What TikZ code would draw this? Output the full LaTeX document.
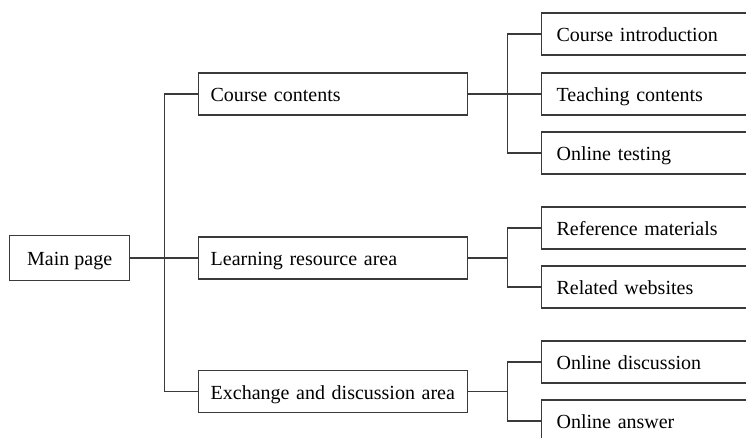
\documentclass[tikz,border=0pt]{standalone}
\usepackage{fontspec}
\setmainfont{Liberation Serif}
\usetikzlibrary{calc,positioning}
\definecolor{ink}{HTML}{3A3A3A}
\tikzset{
    box/.style={draw=ink, line width=0.65pt, rectangle, anchor=west,
                minimum height=21pt, inner ysep=0pt, text height=8.5pt,
                text depth=0.5pt, font=\fontsize{10}{12}\selectfont, text=black},
    main box/.style={box, minimum width=60pt, minimum height=22.5pt},
    area box/.style={box, inner xsep=6pt, text width=122.5pt, align=left},
    item box/.style={box, inner xsep=7.5pt, text width=100pt, align=left},
    link/.style={draw=ink, line width=0.65pt},
}

\begin{document}
\begin{tikzpicture}[x=0.5pt, y=-0.5pt]
\useasboundingbox (0,0) rectangle (746,438);
\clip (0,0) rectangle (746,438);

% Root and the three areas.
\node[main box] (M) at (9,258) {Main page};
\node[area box] (C) at (198,94) {Course contents};
\node[area box] (L) at (198,258) {Learning resource area};
\node[area box] (E) at (198,391.5) {Exchange and discussion area};

% Items of each area.
\node[item box] (CI) at (541,34) {Course introduction};
\node[item box] (TC) at (541,94) {Teaching contents};
\node[item box] (OT) at (541,153) {Online testing};
\node[item box] (RM) at (541,228) {Reference materials};
\node[item box] (RW) at (541,287) {Related websites};
\node[item box] (OD) at (541,362) {Online discussion};
\node[item box] (OA) at (541,421) {Online answer};

% Forks.
\coordinate (mainFork) at ($(M.east)!0.5!(L.west)$);
\coordinate (contentsFork) at ($(C.east)+(39,0)$);
\coordinate (resourceFork) at ($(L.east)+(39,0)$);
\coordinate (exchangeFork) at ($(E.east)+(39,0)$);

\draw[link] (M.east) -- (L.west);
\draw[link] (C.west) -| (mainFork) |- (E.west);

\draw[link] (C.east) -- (TC.west);
\draw[link] (CI.west) -| (contentsFork) |- (OT.west);

\draw[link] (L.east) -- (resourceFork);
\draw[link] (RM.west) -| (resourceFork) |- (RW.west);

\draw[link] (E.east) -- (exchangeFork);
\draw[link] (OD.west) -| (exchangeFork) |- (OA.west);

\end{tikzpicture}
\end{document}
